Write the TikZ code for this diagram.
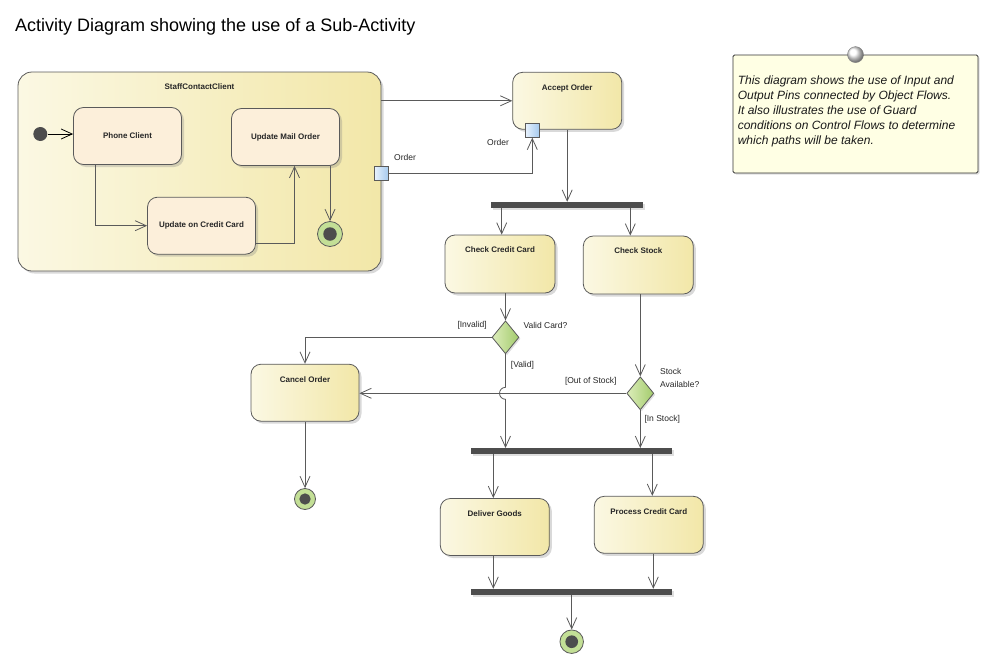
\documentclass[tikz,border=0pt]{standalone}
\usepackage{fontspec}
\setmainfont{Liberation Sans}
\usetikzlibrary{arrows.meta,shapes.geometric,shadows,calc}

\definecolor{borde}{HTML}{5A5A5A}
\definecolor{accionL}{HTML}{FBF8E3}
\definecolor{accionR}{HTML}{F2E7A8}
\definecolor{subacc}{HTML}{FCEFDA}
\definecolor{pinL}{HTML}{E8F2FD}
\definecolor{pinR}{HTML}{A6CAEE}
\definecolor{rombL}{HTML}{DCEDBA}
\definecolor{rombR}{HTML}{A3CB6C}
\definecolor{finalV}{HTML}{C3DF96}
\definecolor{oscuro}{HTML}{4D4D4D}
\definecolor{nota}{HTML}{FFFFE4}

\begin{document}
\begin{tikzpicture}[x=1pt, y=-1pt,
    accion/.style={draw=borde, line width=0.8pt, rounded corners=10pt,
        left color=accionL, right color=accionR,
        drop shadow={opacity=0.3, shadow xshift=2.5pt, shadow yshift=-2.5pt},
        minimum width=109pt, minimum height=57pt, inner sep=0pt},
    nombre/.style={anchor=north, yshift=-9pt, font=\fontsize{8}{10}\selectfont\bfseries, text=black!85},
    paso/.style={accion, label={[nombre]north:#1}},
    subaccion/.style={accion, left color=subacc, right color=subacc,
        minimum width=108pt, font=\fontsize{8}{10}\selectfont\bfseries, text=black!85},
    barra/.style={fill=oscuro, minimum height=6pt, inner sep=0pt,
        drop shadow={opacity=0.25, shadow xshift=1.5pt, shadow yshift=-1.5pt}},
    pin/.style={draw=borde, line width=0.8pt, left color=pinL, right color=pinR,
        minimum size=14pt, inner sep=0pt},
    decision/.style={diamond, draw=borde, line width=0.8pt, left color=rombL, right color=rombR,
        minimum width=27pt, minimum height=33pt, inner sep=0pt,
        drop shadow={opacity=0.25, shadow xshift=1.5pt, shadow yshift=-1.5pt}},
    inicio/.style={circle, fill=oscuro, minimum size=14pt, inner sep=0pt},
    final/.style={circle, draw=borde, line width=0.8pt, fill=finalV, minimum size=#1, inner sep=0pt,
        path picture={\fill[oscuro] (path picture bounding box.center) circle (#1*0.27);}},
    flujo/.style={draw=borde, line width=0.8pt, -{Straight Barb[length=11pt,width=10pt]}},
    etiqueta/.style={font=\fontsize{8.5}{13.5}\selectfont, text=black!85, inner sep=0pt},
]
    \useasboundingbox (0,0) rectangle (989,664);

    % Titulo
    \node[anchor=base west, inner sep=0pt, font=\fontsize{18}{21}\selectfont] (rotulo) at (15,31.5) {Activity Diagram showing the use of a Sub-Activity};

    % Sub-actividad
    \node[paso=StaffContactClient, minimum width=363pt, minimum height=199pt, rounded corners=14pt] (staff) at (199.5,171.5) {};
    \node[inicio] (ini) at (40.3,134) {};
    \node[subaccion] (phone) at (127.5,136) {Phone Client};
    \node[subaccion] (mail) at (285.5,137) {Update Mail Order};
    \node[subaccion] (upcc) at (201.5,225.7) {Update on Credit Card};
    \node[final=25pt] (fin1) at (330,234) {};

    % Acciones
    \node[paso=Accept Order] (accept) at (567.2,100.8) {};
    \node[paso=Check Credit Card, minimum width=110pt, minimum height=58pt] (ccc) at (500,264) {};
    \node[paso=Check Stock, minimum width=110pt, minimum height=58pt] (stock) at (638.3,265) {};
    \node[paso=Cancel Order, minimum width=108pt] (cancel) at (305,392.7) {};
    \node[paso=Deliver Goods] (deliver) at (494.8,527) {};
    \node[paso=Process Credit Card] (proccc) at (648.8,524.8) {};

    % Pines
    \node[pin] (pinS) at (381.3,173.7) {};
    \node[pin] (pinA) at (532.3,130.3) {};

    % Barras
    \node[barra, minimum width=152pt] (fork1) at (567,205) {};
    \node[barra, minimum width=201pt] (join1) at (571.5,451.2) {};
    \node[barra, minimum width=201pt] (join2) at (571.5,592) {};

    % Decisiones
    \node[decision] (dvalid) at (505.5,337.3) {};
    \node[decision] (dstock) at (640.3,393.3) {};

    % Finales
    \node[final=21pt] (fin2) at (305,499) {};
    \node[final=23.5pt] (fin3) at (571.7,641.7) {};

    % Nota
    \node[draw=black!80, line width=0.8pt, fill=nota, rounded corners=1.5pt, minimum width=245pt, minimum height=118pt,
        drop shadow={opacity=0.25, shadow xshift=1.5pt, shadow yshift=-1.5pt}] (note) at (855.5,114) {};
    \shade[ball color=white, draw=gray] (note.north) circle (8);
    \node[anchor=north west, align=left, inner sep=0pt, font=\fontsize{12}{15}\selectfont\itshape, text=black!90] (notetxt)
        at ($(note.north west)+(5,21)$) {This diagram shows the use of Input and\\Output Pins connected by Object Flows.\\It also illustrates the use of Guard\\conditions on Control Flows to determine\\which paths will be taken.};

    % Flujos dentro de la sub-actividad
    \draw[flujo, draw=black] (ini) -- (ini -| phone.west);
    \draw[flujo] ($(phone.south)+(-32,0)$) |- (upcc.west);
    \draw[flujo] ($(upcc.east)+(0,18)$) -| ($(mail.south)+(9,0)$);
    \draw[flujo] (fin1 |- mail.south) -- (fin1.north);

    % Flujos de objeto
    \draw[flujo] (staff.east |- accept.west) -- (accept.west);
    \draw[flujo] (pinS.east) -| (pinA.south);
    \node[etiqueta, anchor=west] (ordS) at (394,157.7) {Order};
    \node[etiqueta, anchor=west] (ordA) at (487,142.7) {Order};

    % Fork
    \draw[flujo] (accept.south) -- (accept.south |- fork1.north);
    \coordinate (cIn) at ($(ccc.north)+(1.7,0)$);
    \coordinate (sIn) at ($(stock.north)+(-8,0)$);
    \draw[flujo] (cIn |- fork1.south) -- (cIn);
    \draw[flujo] (sIn |- fork1.south) -- (sIn);

    % Decisiones
    \draw[flujo] (dvalid |- ccc.south) -- (dvalid.north);
    \draw[flujo] (dstock |- stock.south) -- (dstock.north);
    \draw[flujo] (dvalid.west) -| (cancel.north);
    \coordinate (cruce) at (dvalid |- dstock);
    \draw[flujo] (dvalid.south) -- ($(cruce)+(0,-6)$) arc (270:90:6) -- (dvalid |- join1.north);
    \draw[flujo] (dstock.west) -- (dstock.west -| cancel.east);
    \draw[flujo] (dstock.south) -- (dstock |- join1.north);
    \draw[flujo] (cancel.south) -- (fin2.north);

    % Etiquetas de guarda
    \node[etiqueta, anchor=east] (lInv) at (487,325.7) {[Invalid]};
    \node[etiqueta, anchor=west] (lVc) at (523.3,325) {Valid Card?};
    \node[etiqueta, anchor=west] (lVal) at (510.7,365) {[Valid]};
    \node[etiqueta, anchor=west, align=left] (lSa) at (660,378) {Stock\\Available?};
    \node[etiqueta, anchor=east] (lOut) at (616.7,381.7) {[Out of Stock]};
    \node[etiqueta, anchor=west] (lIn) at (644.3,419) {[In Stock]};

    % Join y entrega
    \coordinate (dIn) at ($(deliver.north)+(-1.5,0)$);
    \coordinate (pIn) at ($(proccc.north)+(3.5,0)$);
    \draw[flujo] (dIn |- join1.south) -- (dIn);
    \draw[flujo] (pIn |- join1.south) -- (pIn);
    \coordinate (dOut) at ($(deliver.south)+(-1.5,0)$);
    \coordinate (pOut) at ($(proccc.south)+(4.5,0)$);
    \draw[flujo] (dOut) -- (dOut |- join2.north);
    \draw[flujo] (pOut) -- (pOut |- join2.north);
    \draw[flujo] (join2.south -| fin3) -- (fin3.north);
\end{tikzpicture}
\end{document}
